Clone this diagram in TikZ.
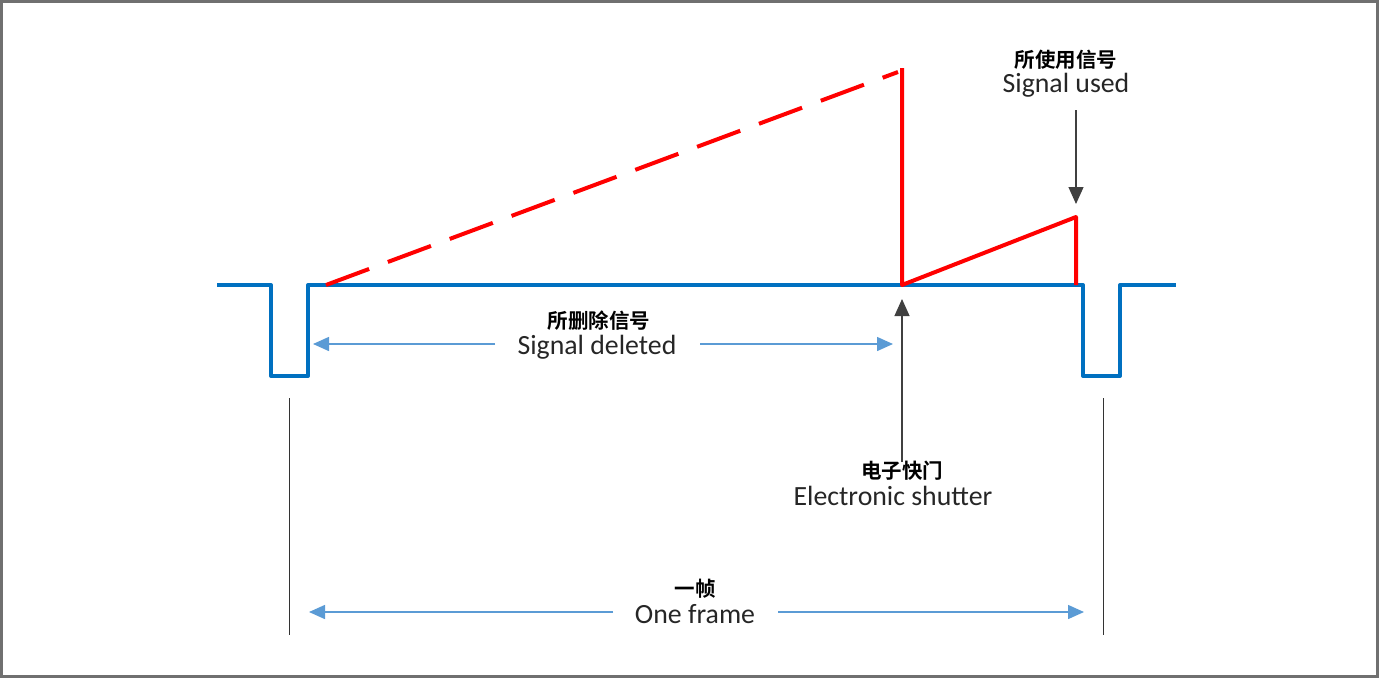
\documentclass[tikz,border=0pt]{standalone}
\usepackage{fontspec}
\setmainfont{Carlito}
\newfontfamily\cjk{Noto Sans CJK SC}[BoldFont={* Bold}]
\usetikzlibrary{arrows.meta}
\definecolor{sigblue}{HTML}{0070C0}
\definecolor{lblue}{HTML}{5B9BD5}
\definecolor{frame}{HTML}{707070}
\tikzset{
  wave/.style={sigblue, line width=4pt, line join=round},
  redsig/.style={red, line width=4pt, line join=round},
  dim/.style={lblue, line width=1.5pt, -{Triangle[width=14pt,length=16pt]}},
  pointer/.style={black!75, line width=1.2pt, -{Triangle[width=15pt,length=17pt]}, fill=black},
  guide/.style={black!80, line width=1pt},
  en/.style={font=\fontsize{27.8}{30}\selectfont, text=black!85, inner sep=0pt},
  zh/.style={font=\cjk\bfseries\fontsize{20.5}{22}\selectfont, text=black, inner sep=0pt},
}
\begin{document}
\begin{tikzpicture}[x=1pt,y=-1pt]
\useasboundingbox (0,0) rectangle (1379,678);
\draw[frame, line width=3pt] (1.5,1.5) rectangle (1377.5,676.5);
% waveform
\coordinate (w0) at (217,285);
\coordinate (w1) at (271,285);
\coordinate (w2) at (271,376);
\coordinate (w3) at (308,376);
\coordinate (w4) at (308,285);
\coordinate (w5) at (1083,285);
\coordinate (w6) at (1083,376);
\coordinate (w7) at (1120,376);
\coordinate (w8) at (1120,285);
\coordinate (w9) at (1176,285);
\draw[wave] (w0) -- (w1) -- (w2) -- (w3) -- (w4) -- (w5) -- (w6) -- (w7) -- (w8) -- (w9);
% red signal
\coordinate (r0) at (326,285);
\coordinate (r1) at (898,72);
\coordinate (rtop) at (902,68);
\coordinate (rbot) at (902,285);
\coordinate (rpeak) at (1076,217);
\coordinate (rend) at (1076,285);
\draw[redsig, dash pattern=on 46pt off 20pt] (r0) -- (r1);
\draw[redsig] (rtop) -- (rbot) -- (rpeak) -- (rend);
% signal deleted
\node[zh] (zdel) at (599,321) {所删除信号};
\node[en] (edel) at (597,347) {Signal deleted};
\coordinate (dl) at (313,344);
\coordinate (dr) at (893,344);
\coordinate (dlg) at (495,344);
\coordinate (drg) at (700,344);
\draw[dim] (dlg) -- (dl);
\draw[dim] (drg) -- (dr);
% electronic shutter
\node[zh] (zsh) at (902,471) {电子快门};
\node[en] (esh) at (893,496) {Electronic shutter};
\coordinate (shs) at (902,462);
\coordinate (sht) at (902,299);
\draw[pointer] (shs) -- (sht);
% signal used
\node[zh] (zused) at (1066,60) {所使用信号};
\node[en] (eused) at (1066,85) {Signal used};
\coordinate (us) at (1076,110);
\coordinate (ut) at (1076,204);
\draw[pointer] (us) -- (ut);
% frame guides
\coordinate (g1a) at (289,398);
\coordinate (g1b) at (289,635);
\coordinate (g2a) at (1103,398);
\coordinate (g2b) at (1103,635);
\draw[guide] (g1a) -- (g1b);
\draw[guide] (g2a) -- (g2b);
% one frame
\node[zh] (zfr) at (695,589) {一帧};
\node[en] (efr) at (695,614) {One frame};
\coordinate (fl) at (309,612);
\coordinate (fr) at (1084,612);
\coordinate (flg) at (613,612);
\coordinate (frg) at (778,612);
\draw[dim] (flg) -- (fl);
\draw[dim] (frg) -- (fr);
\end{tikzpicture}
\end{document}
